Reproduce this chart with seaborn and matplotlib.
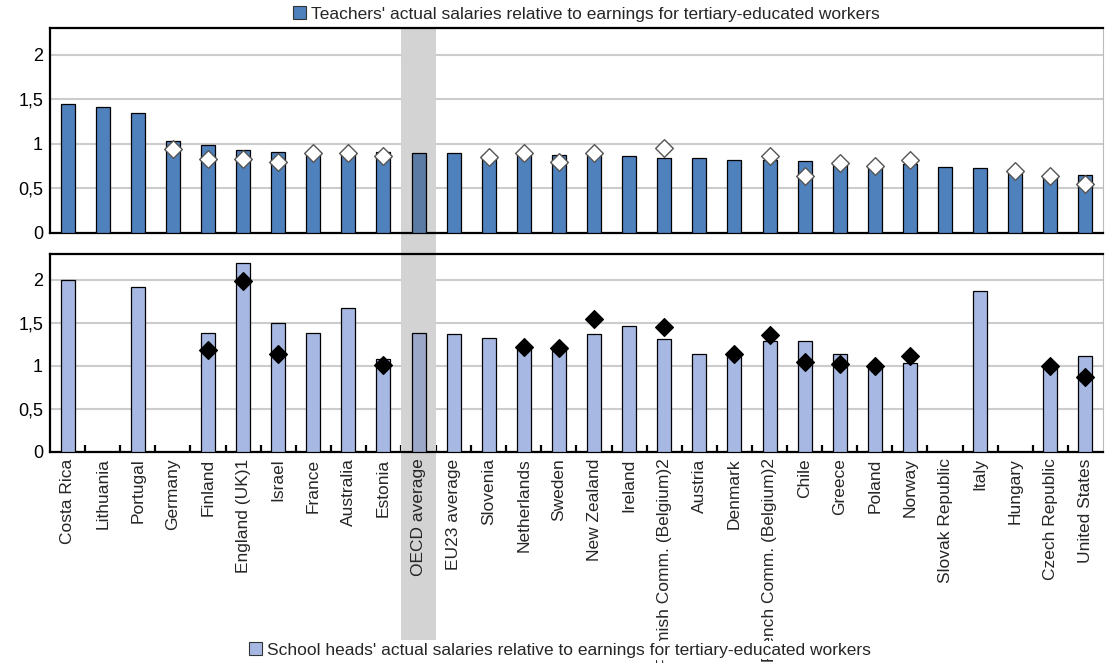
import numpy as np
import pandas as pd
import matplotlib
matplotlib.use("Agg")
import matplotlib.pyplot as plt
from matplotlib.patches import Patch, Rectangle
import seaborn as sns

nan = np.nan

categories = ["Costa Rica", "Lithuania", "Portugal", "Germany", "Finland",
              "England (UK)1", "Israel", "France", "Australia", "Estonia",
              "OECD average", "EU23 average", "Slovenia", "Netherlands", "Sweden",
              "New Zealand", "Ireland", "Flemish Comm. (Belgium)2", "Austria", "Denmark",
              "French Comm. (Belgium)2", "Chile", "Greece", "Poland", "Norway",
              "Slovak Republic", "Italy", "Hungary", "Czech Republic", "United States"]

teachers_bar = [1.44, 1.41, 1.34, 1.03, 0.98, 0.93, 0.91, 0.89, 0.88, 0.90,
                0.89, 0.89, 0.87, 0.88, 0.87, 0.87, 0.86, 0.84, 0.84, 0.81,
                0.82, 0.80, 0.77, 0.75, 0.77, 0.74, 0.72, 0.68, 0.64, 0.65]
teachers_marker = [nan, nan, nan, 0.94, 0.83, 0.83, 0.79, 0.89, 0.89, 0.86,
                   nan, nan, 0.85, 0.89, 0.79, 0.89, nan, 0.95, nan, nan,
                   0.86, 0.63, 0.78, 0.75, 0.82, nan, nan, 0.69, 0.64, 0.55]
heads_bar = [2.00, nan, 1.92, nan, 1.38, 2.19, 1.50, 1.38, 1.67, 1.08,
             1.38, 1.37, 1.32, 1.21, 1.19, 1.37, 1.46, 1.31, 1.14, 1.12,
             1.29, 1.29, 1.14, 1.00, 1.03, nan, 1.87, nan, 0.99, 1.11]
heads_marker = [nan, nan, nan, nan, 1.18, 1.98, 1.13, nan, nan, 1.01,
                nan, nan, nan, 1.22, 1.21, 1.54, nan, 1.45, nan, 1.13,
                1.36, 1.04, 1.02, 1.00, 1.11, nan, nan, nan, 0.99, 0.87]

ytick_vals = [0, 0.5, 1, 1.5, 2]
ytick_labels = ["0", "0,5", "1", "1,5", "2"]
highlight = "OECD average"

top_label = "Teachers' actual salaries relative to earnings for tertiary-educated workers"
bot_label = "School heads' actual salaries relative to earnings for tertiary-educated workers"

TOP_COLOR = "#4F81BD"
TOP_HL = "#5B7BA5"
BOT_COLOR = "#A7B9E3"
BOT_HL = "#9CA8C8"
BAND = "#D3D3D3"
GRID = "#CCCCCC"

sns.set_style("white")
plt.rcParams["font.family"] = ["Liberation Sans", "DejaVu Sans"]
plt.rcParams["font.size"] = 12.5

df = pd.DataFrame({"cat": categories, "tb": teachers_bar, "tm": teachers_marker,
                   "hb": heads_bar, "hm": heads_marker})

W, H = 1105, 663
fig = plt.figure(figsize=(W / 100, H / 100), dpi=100)
left, right = 50, 1103
ax_top = fig.add_axes([left / W, (H - 232.5) / H, (right - left) / W, 204.5 / H])
ax_bot = fig.add_axes([left / W, (H - 451.5) / H, (right - left) / W, 197.5 / H])

n = len(categories)
hl_idx = categories.index(highlight)

# gray band across both panels and label area (figure level)
cw = (right - left) / n
bx0 = left + cw * hl_idx
band = Rectangle((bx0 / W, (H - 640) / H), cw / W, (640 - 28) / H,
                 transform=fig.transFigure, facecolor=BAND, edgecolor="none", zorder=-1)
fig.add_artist(band)

top_pal = {c: (TOP_HL if c == highlight else TOP_COLOR) for c in categories}
bot_pal = {c: (BOT_HL if c == highlight else BOT_COLOR) for c in categories}

for ax, bcol, mcol, pal, mface, medge in [
        (ax_top, "tb", "tm", top_pal, "white", "#555555"),
        (ax_bot, "hb", "hm", bot_pal, "black", "black")]:
    ax.set_axisbelow(True)
    ax.axvspan(hl_idx - 0.5, hl_idx + 0.5, color=BAND, zorder=1, lw=0)
    sns.barplot(data=df, x="cat", y=bcol, hue="cat", palette=pal, order=categories,
                hue_order=categories, width=0.4, edgecolor="black", linewidth=0.9,
                saturation=1, errorbar=None, legend=False, ax=ax, zorder=3)
    sns.stripplot(data=df, x="cat", y=mcol, order=categories, jitter=False,
                  marker="D", size=9, color=mface, edgecolor=medge, linewidth=1.0,
                  ax=ax, zorder=4)
    ax.set_xlim(-0.5, n - 0.5)
    ax.set_ylim(0, 2.3)
    ax.set_yticks(ytick_vals)
    ax.set_yticklabels(ytick_labels)
    ax.yaxis.grid(True, color=GRID, lw=1.5, zorder=0.5)
    ax.xaxis.grid(False)
    ax.set_xlabel("")
    ax.set_ylabel("")
    ax.tick_params(axis="y", length=0, pad=5, labelsize=13, colors="black")
    for s in ["top", "left", "bottom"]:
        ax.spines[s].set_visible(True)
        ax.spines[s].set_color("black")
        ax.spines[s].set_linewidth(1.6)
    ax.spines["right"].set_visible(True)
    ax.spines["right"].set_color("#BBBBBB")
    ax.spines["right"].set_linewidth(0.8)

ax_top.tick_params(axis="x", length=0, labelbottom=False)

ax_bot.set_xticks(range(n))
ax_bot.set_xticklabels(categories, rotation=90, fontsize=12.5)
ax_bot.tick_params(axis="x", which="major", length=0, pad=5)
ax_bot.set_xticks(np.arange(0.5, n - 0.5, 1), minor=True)
ax_bot.tick_params(axis="x", which="minor", direction="in", length=5, width=1.6,
                   color="black", bottom=True)

leg1 = fig.legend(handles=[Patch(facecolor=TOP_COLOR, edgecolor="#333333", lw=0.8)],
                  labels=[top_label], loc="center", bbox_to_anchor=(586 / W, 1 - 14 / H),
                  frameon=False, handlelength=0.75, handleheight=0.75,
                  handletextpad=0.3, fontsize=12.5, borderpad=0.1)
leg2 = fig.legend(handles=[Patch(facecolor=BOT_COLOR, edgecolor="#333333", lw=0.8)],
                  labels=[bot_label], loc="center", bbox_to_anchor=(560 / W, 1 - 650 / H),
                  frameon=True, facecolor="white", edgecolor="none", framealpha=1,
                  handlelength=0.75, handleheight=0.75, handletextpad=0.3,
                  fontsize=12.5, borderpad=0.1)
leg2.get_frame().set_boxstyle("square", pad=0)

fig.savefig("out.png", dpi=100)
